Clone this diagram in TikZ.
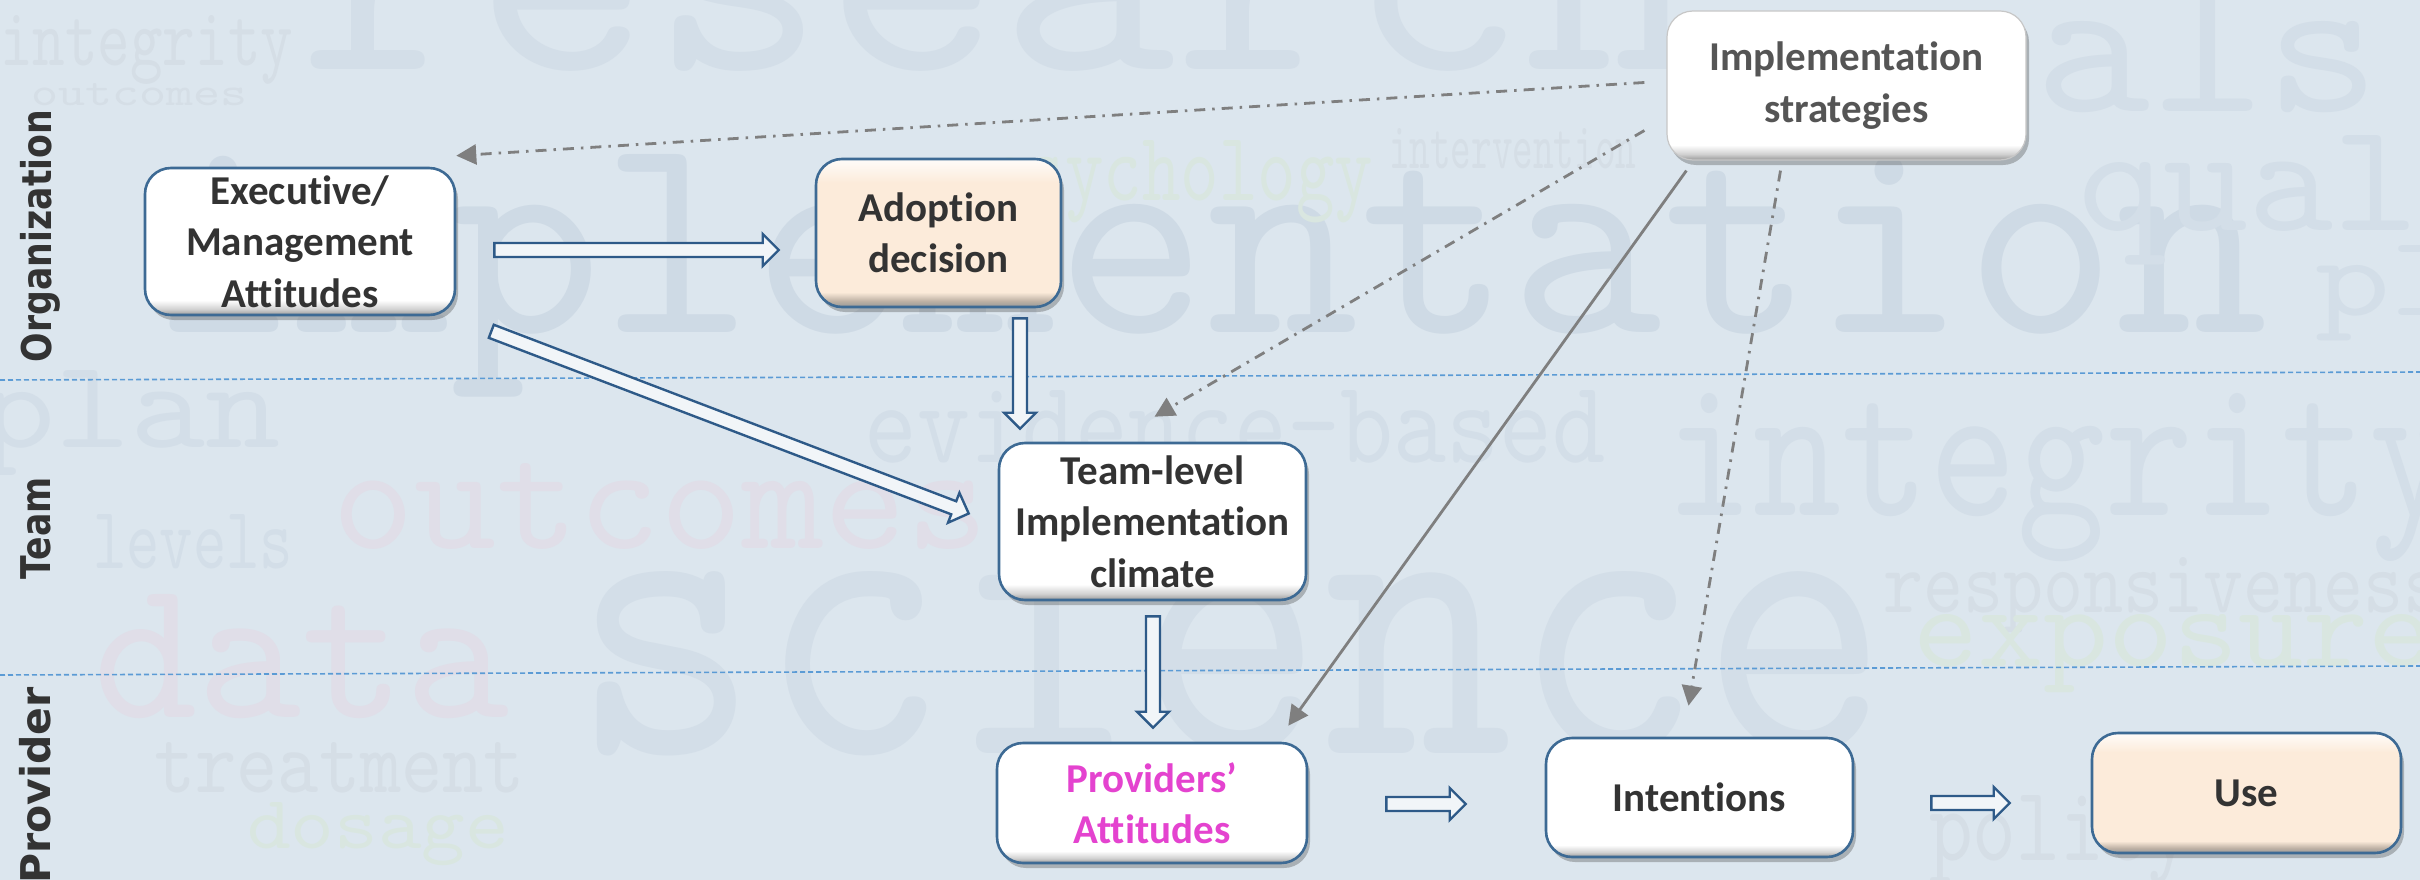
\documentclass[tikz,border=0pt]{standalone}
\usepackage{fontspec}
\usepackage{graphicx}
\setmainfont{Carlito}[Ligatures=NoCommon]
\setmonofont{Latin Modern Mono}
\newfontfamily\sidefont[FakeStretch=0.846]{DejaVu Sans}
\newfontfamily\sidefontwide{DejaVu Sans}
\usetikzlibrary{calc,shadows,arrows.meta}

\definecolor{bg}{HTML}{DCE6EE}
\definecolor{cloudstrong}{HTML}{CEDAE5}
\definecolor{cloudblue}{HTML}{D3DEE8}
\definecolor{cloudpink}{HTML}{E0DEE8}
\definecolor{cloudgreen}{HTML}{D9E6E0}
\definecolor{cloudgray}{HTML}{D5DEE6}
\definecolor{boxline}{HTML}{3D6A94}
\definecolor{arrowline}{HTML}{2E5A88}
\definecolor{txt}{HTML}{333333}
\definecolor{stratxt}{HTML}{555555}
\definecolor{provtxt}{HTML}{E443CF}
\definecolor{peach}{HTML}{FCEBDA}
\definecolor{guide}{HTML}{5B9BD5}
\definecolor{linkgray}{HTML}{7F7F7F}

% box fills: white (or peach) with a darker band along the lower edge
\pgfdeclareverticalshading{whitebox}{100bp}{color(0bp)=(black!40); color(25bp)=(black!40);
  color(27bp)=(black!18); color(30bp)=(white); color(100bp)=(white)}
\pgfdeclareverticalshading{peachbox}{100bp}{color(0bp)=(black!40); color(25bp)=(black!40);
  color(27bp)=(peach!75!black); color(30bp)=(peach); color(67bp)=(peach);
  color(74bp)=(peach!25!white); color(100bp)=(peach!25!white)}

\tikzset{
  box/.style={rounded corners=26pt, draw=boxline, line width=2.6pt, shading=whitebox,
    align=center, inner sep=0pt, text=txt,
    font=\fontsize{41}{51.5}\selectfont\bfseries,
    drop shadow={shadow xshift=3pt, shadow yshift=-5pt, opacity=0.35, fill=black!70}},
  peachfill/.style={shading=peachbox},
  plainedge/.style={draw=black!22, line width=1.2pt},
  sidelabel/.style={rotate=90, anchor=base, inner sep=0pt, text=txt},
  guideline/.style={draw=guide, line width=1.6pt, dash pattern=on 5pt off 3pt},
  link/.style={draw=linkgray, line width=2.8pt, -{Triangle[length=20pt,width=20pt]}},
  dashdot/.style={dash pattern=on 11pt off 7pt on 2.5pt off 7pt},
  blockarr/.style={draw=arrowline, line width=2.4pt, fill=bg!40!white, line join=miter},
}

% hollow block arrow from #1 to #2
\def\shafthw{7pt}\def\headhw{16pt}\def\headlen{16pt}
\newcommand\blockarrow[2]{%
  \path[blockarr] let \p1=(#1), \p2=(#2),
    \n1={atan2(\y2-\y1,\x2-\x1)}, \n2={veclen(\x2-\x1,\y2-\y1)-\headlen} in
    ($(\p1)+(\n1+90:\shafthw)$)
    -- ($(\p1)+(\n1+90:\shafthw)+(\n1:\n2)$)
    -- ($(\p1)+(\n1+90:\headhw)+(\n1:\n2)$)
    -- (\p2)
    -- ($(\p1)+(\n1-90:\headhw)+(\n1:\n2)$)
    -- ($(\p1)+(\n1-90:\shafthw)+(\n1:\n2)$)
    -- ($(\p1)+(\n1-90:\shafthw)$) -- cycle;}

% faint word of the background cloud: name, x, baseline, width, height, colour, text
\newcommand\cloudword[7]{%
  \node[anchor=base west, inner sep=0pt, text=#6] (#1) at (#2,#3)
    {\resizebox{#4pt}{#5pt}{\ttfamily #7}};}

\begin{document}
\begin{tikzpicture}[x=1pt,y=-1pt]
\useasboundingbox (0,0) rectangle (2420,880);
\fill[bg] (0,0) rectangle (2420,880);

% word cloud
\begin{scope}
\clip (0,0) rectangle (2420,880);
\cloudword{cw1}{300}{70}{1400}{190}{cloudblue}{research}
\cloudword{cw2}{147}{332}{2121}{178}{cloudstrong}{implementation}
\cloudword{cw3}{571}{753}{1319}{250}{cloudblue}{science}
\cloudword{cw4}{1805}{112}{575}{125}{cloudblue}{goals}
\cloudword{cw5}{2078}{230}{595}{95}{cloudblue}{quality}
\cloudword{cw6}{1665}{515}{792}{122}{cloudblue}{integrity}
\cloudword{cw7}{864}{462}{741}{72}{cloudblue}{evidence-based}
\cloudword{cw8}{332}{548}{656}{85}{cloudpink}{outcomes}
\cloudword{cw9}{93}{717}{416}{123}{cloudpink}{data}
\cloudword{cw10}{-20}{447}{300}{77}{cloudblue}{plan}
\cloudword{cw11}{93}{568}{200}{54}{cloudblue}{levels}
\cloudword{cw12}{154}{792}{371}{50}{cloudgray}{treatment}
\cloudword{cw13}{247}{848}{262}{46}{cloudgreen}{dosage}
\cloudword{cw14}{1883}{612}{560}{55}{cloudgray}{responsiveness}
\cloudword{cw15}{1913}{666}{520}{52}{cloudgreen}{exposure}
\cloudword{cw16}{988}{200}{385}{60}{cloudgreen}{psychology}
\cloudword{cw17}{1389}{168}{247}{40}{cloudgray}{intervention}
\cloudword{cw18}{1929}{860}{262}{65}{cloudgray}{policy}
\cloudword{cw19}{0}{66}{293}{50}{cloudgray}{integrity}
\cloudword{cw20}{31}{106}{216}{22}{cloudgray}{outcomes}
\cloudword{cw21}{2315}{315}{300}{70}{cloudblue}{plan}
\end{scope}

% level separators
\coordinate (sepAl) at (0,380);   \coordinate (sepAr) at (2420,372);
\coordinate (sepBl) at (0,675);   \coordinate (sepBr) at (2420,666);
\draw[guideline] (sepAl) -- (sepAr);
\draw[guideline] (sepBl) -- (sepBr);

% level labels
\node[sidelabel] (lorg) at (51.5,236)
  {\sidefont\bfseries\fontsize{41}{49}\selectfont Organization};
\node[sidelabel] (lteam) at (50,528.5)
  {\sidefont\bfseries\fontsize{41}{49}\selectfont Team};
\node[sidelabel] (lprov) at (50,785.5)
  {\sidefontwide\bfseries\fontsize{41}{49}\selectfont Provider};

% boxes
\node[box, minimum width=310pt, minimum height=147pt] (exec) at (300,241.5)
  {Executive/\\Management\\Attitudes};
\node[box, peachfill, minimum width=245pt, minimum height=148pt] (adopt) at (938.5,233)
  {Adoption\\decision};
\node[box, plainedge, text=stratxt, minimum width=359pt, minimum height=149pt] (strat) at (1846.5,85.5)
  {Implementation\\strategies};
\node[box, minimum width=307pt, minimum height=157pt] (team) at (1152.5,521.5)
  {Team-level\\Implementation\\climate};
\node[box, text=provtxt, minimum width=310pt, minimum height=120pt] (prov) at (1152,803)
  {Providers’\\Attitudes};
\node[box, minimum width=307pt, minimum height=119pt] (intent) at (1699.5,797.5)
  {Intentions};
\node[box, peachfill, minimum width=309pt, minimum height=120pt] (use) at (2246.5,793)
  {Use};

% influence of the implementation strategies
\draw[link, dashdot] ($(strat.west)+(-22,-3)$) -- ($(exec.north east)+(0,-11)$);
\draw[link, dashdot] ($(strat.west)+(-22,45)$) -- ($(team.north)+(2,-25)$);
\draw[link] ($(strat.south west)+(20,10)$) -- ($(prov.north east)+(-20,-16)$);
\draw[link, dashdot] ($(strat.south)+(-66,10)$) -- ($(intent.north)+(-11,-31)$);

% causal chain
\blockarrow{$(exec.east)+(38,8.5)$}{$(adopt.west)+(-36,17)$}
\blockarrow{$(exec.south east)+(35,15)$}{$(team.west)+(-29,-8)$}
\blockarrow{$(adopt.south)+(81.5,10)$}{$(team.north)+(-132.5,-13)$}
\blockarrow{$(team.south)+(0.5,15)$}{$(prov.north)+(1,-14)$}
\blockarrow{$(prov.east)+(78,1)$}{$(intent.west)+(-79,6.5)$}
\blockarrow{$(intent.east)+(77,5.5)$}{$(use.west)+(-81,10)$}
\end{tikzpicture}
\end{document}
